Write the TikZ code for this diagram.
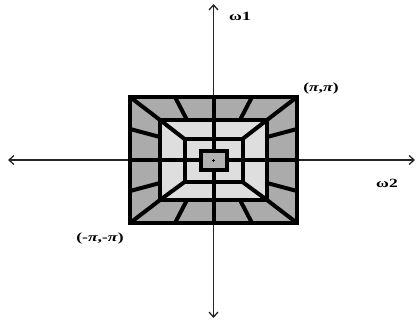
\documentclass[tikz,border=0pt]{standalone}
\usepackage{graphicx}
\usepackage{fontspec}
\setmainfont{Liberation Serif}
\usetikzlibrary{arrows.meta,calc}
\newcommand{\wide}[1]{\scalebox{1.4}[1]{#1}}
\tikzset{
  >={Straight Barb[length=5pt,width=9pt]},
  axis/.style={<->,line width=1.3pt,black!85},
  ring/.style={draw=black,line width=4pt},
  darkring/.style={ring,fill=black!33},
  lightring/.style={ring,fill=black!13},
  coreb/.style={ring,fill=black!30},
  fanline/.style={line width=4pt,black},
  axlbl/.style={font=\fontsize{12.5}{14}\selectfont\bfseries,inner sep=1pt},
}

\begin{document}
\begin{tikzpicture}[x=1pt,y=-1pt]
  \useasboundingbox (0,0) rectangle (418,321);
  % frequency axes
  \coordinate (wl) at (8,160);
  \coordinate (wr) at (415,160);
  \coordinate (wt) at (213.5,4);
  \coordinate (wb) at (213.5,318);
  \draw[axis] (wl) -- (wr);
  \draw[axis] (wb) -- (wt);
  % nested boxes
  \coordinate (outA) at (130,97);    \coordinate (outB) at (297,223);
  \coordinate (midA) at (160,120);   \coordinate (midB) at (267,200);
  \coordinate (inA)  at (184.5,139); \coordinate (inB)  at (242.5,182);
  \coordinate (ctrA) at (200.5,151); \coordinate (ctrB) at (226.5,170);
  \draw[darkring]  (outA) rectangle (outB);
  \draw[lightring] (midA) rectangle (midB);
  \draw[lightring] (inA) rectangle (inB);
  \draw[coreb]     (ctrA) rectangle (ctrB);
  % fan lines of the outer band
  \foreach \a/\b in {175/187,252/240} {
    \draw[fanline] (\a,97) -- (\b,120);
    \draw[fanline] (\a,223) -- (\b,200);
  }
  \foreach \a/\b in {129/137,191/183} {
    \draw[fanline] (130,\a) -- (160,\b);
    \draw[fanline] (297,\a) -- (267,\b);
  }
  % corner diagonals
  \draw[fanline] (outA) -- (midA) -- (inA);
  \draw[fanline] (outB) -- (midB) -- (inB);
  \draw[fanline] (outA -| outB) -- (midA -| midB) -- (inA -| inB);
  \draw[fanline] (outA |- outB) -- (midA |- midB) -- (inA |- inB);
  % axis stubs
  \draw[fanline] (213.5,97) -- (213.5,151);
  \draw[fanline] (213.5,170) -- (213.5,223);
  \draw[fanline] (130,160) -- (200.5,160);
  \draw[fanline] (226.5,160) -- (297,160);
  % centre mark
  \coordinate (origin) at (213.5,160.5);
  \draw[line width=0.6pt] ([xshift=-1.5pt]origin) -- ([xshift=1.5pt]origin)
    ([yshift=-1.5pt]origin) -- ([yshift=1.5pt]origin);
  % labels
  \node[axlbl] (w1) at (240,16) {\wide{ω1}};
  \node[axlbl] (w2) at (387,183) {\wide{ω2}};
  \node[axlbl] (pp) at (321,88) {\wide{(\textit{π},\textit{π})}};
  \node[axlbl] (mm) at (100,238.5) {\wide{(-\textit{π},-\textit{π})}};
\end{tikzpicture}
\end{document}
